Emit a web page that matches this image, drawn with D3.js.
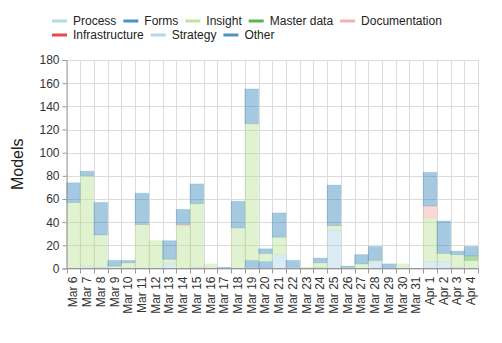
<!DOCTYPE html>
<html><head><meta charset="utf-8">
<script src="https://cdn.jsdelivr.net/npm/d3@7"></script>
<style>body{margin:0;background:#fff}svg{display:block;font-family:"Liberation Sans",Arial,sans-serif}</style>
</head><body><svg id="c" width="502" height="343"></svg>
<script>
const dates = ["Mar 6","Mar 7","Mar 8","Mar 9","Mar 10","Mar 11","Mar 12","Mar 13","Mar 14","Mar 15","Mar 16","Mar 17","Mar 18","Mar 19","Mar 20","Mar 21","Mar 22","Mar 23","Mar 24","Mar 25","Mar 26","Mar 27","Mar 28","Mar 29","Mar 30","Mar 31","Apr 1","Apr 2","Apr 3","Apr 4"];
const seriesNames = ["Process","Forms","Insight","Master data","Documentation","Infrastructure","Strategy","Other"];
const seriesColors = ["#a6cee3","#1f78b4","#b2df8a","#33a02c","#fb9a99","#e31a1c","#a6cee3","#1f78b4"];
const process =        [0,2,1,0,0,0,0,4,0,1,0,0,0,1,0,12,1,0,1,33,0,0,6,0,0,0,6,6,1,0];
const forms =          [0,0,0,0,0,0,0,0,0,0,0,0,0,6,6,0,0,0,0,0,0,0,0,0,0,0,0,0,0,0];
const insight =        [57,78,28,2,5,38,24,4,37,55,4,0,35,118,7,15,0,1,4,4,1,4,1,0,4,0,38,7,11,7];
const masterData =     [0,0,0,0,0,0,0,0,0,0,0,0,0,0,0,0,0,0,0,0,0,0,0,0,0,0,0,0,0,4];
const documentation =  [0,0,0,0,0,0,0,0,1,0,0,0,0,0,0,0,0,0,0,0,0,0,0,0,0,0,10,0,0,0];
const infrastructure = [0,0,0,0,0,0,0,0,0,0,0,0,0,0,0,0,0,0,0,0,0,0,0,0,0,0,0,0,0,0];
const strategy =       [0,0,0,0,0,0,0,0,0,0,0,0,0,0,0,0,0,0,0,0,0,0,0,0,0,0,0,0,0,0];
const other =          [17,4,28,5,2,27,0,16,13,17,0,1,23,30,4,21,6,0,4,35,1,8,12,4,0,0,29,28,3,8];
const yTicks = [0,20,40,60,80,100,120,140,160,180];

const seriesValues = [process,forms,insight,masterData,documentation,infrastructure,strategy,other];
const table = dates.map((d,i)=>{const r={date:d};seriesNames.forEach((s,j)=>r[s]=seriesValues[j][i]);return r;});

const svg = d3.select("#c");
const L=66.5, R=478, T=60, B=268.5;
const x = d3.scaleBand().domain(dates).range([L,R]).padding(0);
const y = d3.scaleLinear().domain([0,180]).range([B,T]);
const color = d3.scaleOrdinal().domain(seriesNames).range(seriesColors);

// grid
const g = svg.append("g");
g.selectAll(".hg").data(yTicks).join("line")
 .attr("x1",L).attr("x2",R).attr("y1",d=>Math.round(y(d))+0.5).attr("y2",d=>Math.round(y(d))+0.5)
 .attr("stroke","#dcdcdc").attr("stroke-width",1);
const edges = dates.map(d=>x(d)).concat([R]);
g.selectAll(".vg").data(edges).join("line")
 .attr("x1",d=>Math.round(d)+0.5).attr("x2",d=>Math.round(d)+0.5).attr("y1",T).attr("y2",B)
 .attr("stroke","#dcdcdc").attr("stroke-width",1);

// bars
const stack = d3.stack().keys(seriesNames)(table);
svg.append("g").selectAll("g").data(stack).join("g")
 .attr("fill",d=>color(d.key)).attr("fill-opacity",0.4)
 .attr("stroke",d=>color(d.key)).attr("stroke-opacity",0.15)
 .selectAll("rect").data(d=>d.filter(v=>v[1]-v[0]>0)).join("rect")
 .attr("x",d=>x(d.data.date)).attr("width",x.bandwidth())
 .attr("y",d=>y(d[1])).attr("height",d=>y(d[0])-y(d[1]));

// y axis
const ya = svg.append("g").attr("transform",`translate(${L},0)`)
 .call(d3.axisLeft(y).tickValues(yTicks).tickSize(4).tickPadding(3));
ya.select(".domain").attr("stroke","#999");
ya.selectAll(".tick line").attr("stroke","#999");
ya.selectAll("text").attr("font-size",12).attr("fill","#333").attr("font-family","Liberation Sans, Arial, sans-serif");

// x axis
svg.append("line").attr("x1",L).attr("x2",R).attr("y1",B).attr("y2",B).attr("stroke","#999");
svg.append("g").selectAll("line").data(edges).join("line")
 .attr("x1",d=>Math.round(d)+0.5).attr("x2",d=>Math.round(d)+0.5).attr("y1",B).attr("y2",B+5)
 .attr("stroke","#999");
svg.append("g").selectAll("text").data(dates).join("text")
 .attr("transform",d=>`translate(${x(d)+x.bandwidth()/2+4},${B+8}) rotate(-90)`)
 .attr("text-anchor","end").attr("font-size",12).attr("fill","#333").text(d=>d);

// y label
svg.append("text").attr("transform",`translate(23,${(T+B)/2}) rotate(-90)`)
 .attr("text-anchor","middle").attr("font-size",16).attr("fill","#222").text("Models");

// legend
const rows = [[0,1,2,3,4],[5,6,7]];
rows.forEach((row,ri)=>{
  let cx = 52;
  const yy = 21 + ri*14;
  row.forEach(i=>{
    svg.append("line").attr("x1",cx).attr("x2",cx+15).attr("y1",yy).attr("y2",yy)
      .attr("stroke",seriesColors[i]).attr("stroke-width",3).attr("stroke-opacity",0.8);
    const t = svg.append("text").attr("x",cx+21).attr("y",yy+4).attr("font-size",12).attr("fill","#222").text(seriesNames[i]);
    cx += 21 + t.node().getComputedTextLength() + 7;
  });
});
</script></body></html>
